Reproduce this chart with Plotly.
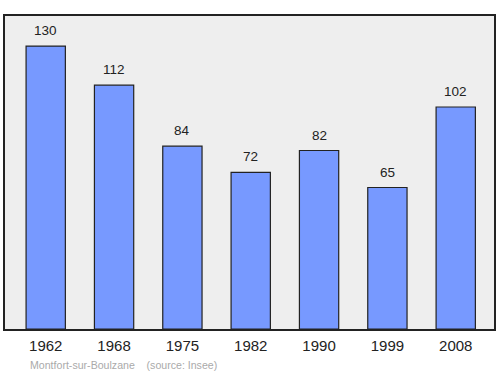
import plotly.graph_objects as go

years = ["1962", "1968", "1975", "1982", "1990", "1999", "2008"]
population = [130, 112, 84, 72, 82, 65, 102]
footer = "Montfort-sur-Boulzane    (source: Insee)"

fig = go.Figure()
fig.add_trace(go.Bar(
    x=list(range(len(years))), y=population,
    width=0.575,
    marker=dict(color="#7799ff", line=dict(color="#222222", width=1.2)),
    hoverinfo="skip",
))

for i, v in enumerate(population):
    fig.add_annotation(x=i, y=v, text=str(v), showarrow=False,
                       yanchor="bottom", yshift=6,
                       font=dict(size=13.5, color="#222222"))

fig.add_annotation(xref="paper", yref="paper", x=(28-5)/489, y=-(365-329)/313,
                   text=footer, showarrow=False,
                   xanchor="left", yanchor="middle",
                   font=dict(size=10.6, color="#aaaaaa"))

fig.update_layout(
    width=500, height=374,
    margin=dict(l=5, r=6, t=16, b=45),
    paper_bgcolor="white", plot_bgcolor="#eeeeee",
    font=dict(family="Liberation Sans, Arial, sans-serif"),
    showlegend=False,
    xaxis=dict(range=[-0.596, 6.56], tickmode="array",
               tickvals=list(range(len(years))), ticktext=years,
               showgrid=False, zeroline=False, showline=True, mirror=True,
               linecolor="#222222", linewidth=1.5, ticks="",
               ticklabelstandoff=2,
               tickfont=dict(size=15, color="#222222")),
    yaxis=dict(range=[0, 143.8], showticklabels=False, showgrid=False,
               zeroline=False, showline=True, mirror=True,
               linecolor="#222222", linewidth=1.5, ticks=""),
)

fig.write_html("out.html")
